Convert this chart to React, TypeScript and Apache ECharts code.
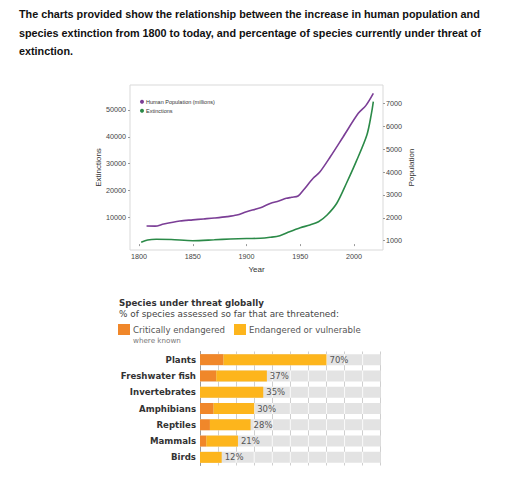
import React, { useEffect, useRef } from 'react';
import * as echarts from 'echarts';

// upper chart: population (right axis) and extinctions (left axis) by year
const popYears = [1807, 1815, 1823, 1838, 1850, 1860, 1870, 1882, 1891, 1900, 1913, 1922, 1930, 1937, 1942, 1948, 1953, 1962, 1968, 1978, 1990, 2004, 2011, 2018];
const population = [1640, 1635, 1730, 1860, 1910, 1950, 1990, 2050, 2120, 2266, 2440, 2630, 2735, 2850, 2895, 2950, 3214, 3725, 3987, 4668, 5542, 6563, 6900, 7437];
const extYears = [1802, 1808, 1816, 1830, 1850, 1870, 1885, 1900, 1913, 1922, 1931, 1940, 1950, 1959, 1967, 1975, 1984, 1993, 2002, 2012, 2016, 2018];
const extinctions = [670, 1500, 1790, 1700, 1270, 1600, 1900, 2090, 2160, 2530, 3130, 4620, 6110, 7120, 8350, 10850, 15210, 22670, 30720, 40670, 48130, 53090];
const yearTicks = [1800, 1850, 1900, 1950, 2000];
const extTicks = [10000, 20000, 30000, 40000, 50000];
const popTicks = [1000, 2000, 3000, 4000, 5000, 6000, 7000];

// lower chart: species under threat (%)
const groups = ['Plants', 'Freshwater fish', 'Invertebrates', 'Amphibians', 'Reptiles', 'Mammals', 'Birds'];
const critical = [13, 9, 0, 7.5, 5.5, 3.5, 0];
const threatened = [70, 37, 35, 30, 28, 21, 12];

const titleText =
  'The charts provided show the relationship between the increase in human population and\n' +
  'species extinction from 1800 to today, and percentage of species currently under threat of\n' +
  'extinction.';

const PURPLE = '#7b3e96';
const GREEN = '#2b8a48';
const ORANGE = '#f0872a';
const YELLOW = '#fdb51c';
const BAR_H = 11;
const SANS = '"Liberation Sans", Arial, sans-serif';
const VERD = '"DejaVu Sans", Verdana, sans-serif';

const plain = (v: number) => String(v);

const App: React.FC = () => {
  const chartRef = useRef<HTMLDivElement>(null);

  useEffect(() => {
    document.body.style.margin = '0';
    if (!chartRef.current) return;
    const chart = echarts.init(chartRef.current, null, { renderer: 'svg' });

    const option = {
      animation: false,
      backgroundColor: '#fff',
      title: [
        {
          text: titleText,
          left: 19,
          top: 5,
          padding: 0,
          textStyle: { fontSize: 10.8, fontWeight: 'bold', color: '#111', lineHeight: 18.5, fontFamily: SANS },
        },
        {
          text: 'Species under threat globally',
          subtext: '% of species assessed so far that are threatened:',
          left: 119,
          top: 298,
          padding: 0,
          itemGap: 2,
          textStyle: { fontSize: 8.7, fontWeight: 'bold', color: '#333', fontFamily: VERD },
          subtextStyle: { fontSize: 8.9, color: '#444', fontFamily: VERD },
        },
      ],
      legend: [
        {
          data: ['Human Population (millions)', 'Extinctions'],
          orient: 'vertical',
          left: 140,
          top: 98.7,
          padding: 0,
          itemWidth: 4,
          itemHeight: 4,
          itemGap: 3,
          icon: 'circle',
          textStyle: { fontSize: 5.5, lineHeight: 6, color: '#333', fontFamily: SANS, padding: [0, 0, 0, -3] },
        },
        {
          data: ['Critically endangered'],
          left: 118,
          top: 324,
          padding: 0,
          itemWidth: 12,
          itemHeight: 11,
          icon: 'rect',
          textStyle: { fontSize: 8.6, color: '#555', fontFamily: VERD, padding: [0, 0, 0, -2] },
        },
        {
          data: ['Endangered or vulnerable'],
          left: 234,
          top: 324,
          padding: 0,
          itemWidth: 12,
          itemHeight: 11,
          icon: 'rect',
          textStyle: { fontSize: 8.6, color: '#555', fontFamily: VERD, padding: [0, 0, 0, -2] },
        },
      ],
      graphic: [
        {
          type: 'text',
          left: 133,
          top: 336.5,
          style: { text: 'where known', fontSize: 7.2, fill: '#777', fontFamily: VERD },
        },
      ],
      grid: [
        { left: 130, top: 85, width: 253, height: 165, show: true, borderColor: '#d9d9d9', borderWidth: 1 },
        { left: 200, top: 351.5, width: 180.7, height: 114 },
      ],
      xAxis: [
        {
          type: 'value',
          gridIndex: 0,
          min: 1791.6,
          max: 2027,
          name: 'Year',
          nameLocation: 'middle',
          nameGap: 15,
          nameTextStyle: { fontSize: 8, color: '#333', fontFamily: SANS },
          axisLine: { show: false },
          axisTick: { show: true, length: 2, lineStyle: { color: '#999' }, customValues: yearTicks },
          axisLabel: { fontSize: 7.2, color: '#444', margin: 3, fontFamily: SANS, customValues: yearTicks, formatter: plain },
          splitLine: { show: false },
        },
        {
          type: 'value',
          gridIndex: 1,
          min: 0,
          max: 100,
          interval: 10,
          axisLine: { show: false },
          axisTick: { show: false },
          axisLabel: { show: false },
          splitLine: { show: true, lineStyle: { color: '#cfcfcf', width: 1 } },
        },
      ],
      yAxis: [
        {
          type: 'value',
          gridIndex: 0,
          min: -2200,
          max: 59300,
          name: 'Extinctions',
          nameLocation: 'middle',
          nameGap: 27,
          nameRotate: 90,
          nameTextStyle: { fontSize: 8, color: '#333', fontFamily: SANS },
          axisLine: { show: false },
          axisTick: { show: true, length: 2, lineStyle: { color: '#999' }, customValues: extTicks },
          axisLabel: { fontSize: 7.2, color: '#444', margin: 4, fontFamily: SANS, customValues: extTicks, formatter: plain },
          splitLine: { show: false },
        },
        {
          type: 'value',
          gridIndex: 0,
          position: 'right',
          min: 594,
          max: 7800,
          name: 'Population',
          nameLocation: 'middle',
          nameGap: 24,
          nameRotate: 90,
          nameTextStyle: { fontSize: 8, color: '#333', fontFamily: SANS },
          axisLine: { show: false },
          axisTick: { show: true, length: 2, lineStyle: { color: '#999' }, customValues: popTicks },
          axisLabel: { fontSize: 7.2, color: '#444', margin: 3, fontFamily: SANS, customValues: popTicks, formatter: plain },
          splitLine: { show: false },
        },
        {
          type: 'category',
          gridIndex: 1,
          data: groups,
          inverse: true,
          axisLine: { show: true, lineStyle: { color: '#9a9a9a' } },
          axisTick: { show: false },
          axisLabel: { fontSize: 8.6, fontWeight: 'bold', color: '#333', margin: 4, fontFamily: VERD },
          splitLine: { show: false },
        },
      ],
      series: [
        {
          name: 'Human Population (millions)',
          type: 'line',
          xAxisIndex: 0,
          yAxisIndex: 1,
          data: popYears.map((y, i) => [y, population[i]]),
          showSymbol: false,
          smooth: 0.3,
          lineStyle: { color: PURPLE, width: 1.6 },
          itemStyle: { color: PURPLE },
        },
        {
          name: 'Extinctions',
          type: 'line',
          xAxisIndex: 0,
          yAxisIndex: 0,
          data: extYears.map((y, i) => [y, extinctions[i]]),
          showSymbol: false,
          smooth: 0.3,
          lineStyle: { color: GREEN, width: 1.6 },
          itemStyle: { color: GREEN },
        },
        {
          type: 'custom',
          xAxisIndex: 1,
          yAxisIndex: 2,
          silent: true,
          z: 1,
          data: groups.map((_, i) => [100, i]),
          encode: { x: 0, y: 1 },
          renderItem: (_params: any, api: any) => {
            const idx = api.value(1);
            const s = api.coord([0, idx]);
            const e = api.coord([api.value(0), idx]);
            const children: any[] = [
              {
                type: 'rect',
                shape: { x: s[0], y: s[1] - BAR_H / 2, width: e[0] - s[0], height: BAR_H },
                style: { fill: '#e3e3e3' },
              },
            ];
            for (let v = 10; v < 100; v += 10) {
              const p = api.coord([v, idx]);
              children.push({
                type: 'line',
                shape: { x1: p[0], y1: p[1] - BAR_H / 2, x2: p[0], y2: p[1] + BAR_H / 2 },
                style: { stroke: '#fafafa', lineWidth: 1 },
              });
            }
            return { type: 'group', children };
          },
        },
        {
          name: 'Critically endangered',
          type: 'bar',
          xAxisIndex: 1,
          yAxisIndex: 2,
          stack: 'threat',
          barWidth: BAR_H,
          z: 3,
          data: critical,
          itemStyle: { color: ORANGE },
        },
        {
          name: 'Endangered or vulnerable',
          type: 'bar',
          xAxisIndex: 1,
          yAxisIndex: 2,
          stack: 'threat',
          barWidth: BAR_H,
          z: 3,
          data: threatened.map((t, i) => +(t - critical[i]).toFixed(1)),
          itemStyle: { color: YELLOW },
          label: {
            show: true,
            position: 'right',
            distance: 3,
            fontSize: 8.5,
            color: '#555',
            fontFamily: VERD,
            formatter: (p: any) => `${threatened[p.dataIndex]}%`,
          },
        },
      ],
    };

    chart.setOption(option);
    return () => {
      chart.dispose();
    };
  }, []);

  return (
    <div
      ref={chartRef}
      style={{ position: 'absolute', left: 0, top: 0, width: '512px', height: '479px' }}
    />
  );
};

export default App;
